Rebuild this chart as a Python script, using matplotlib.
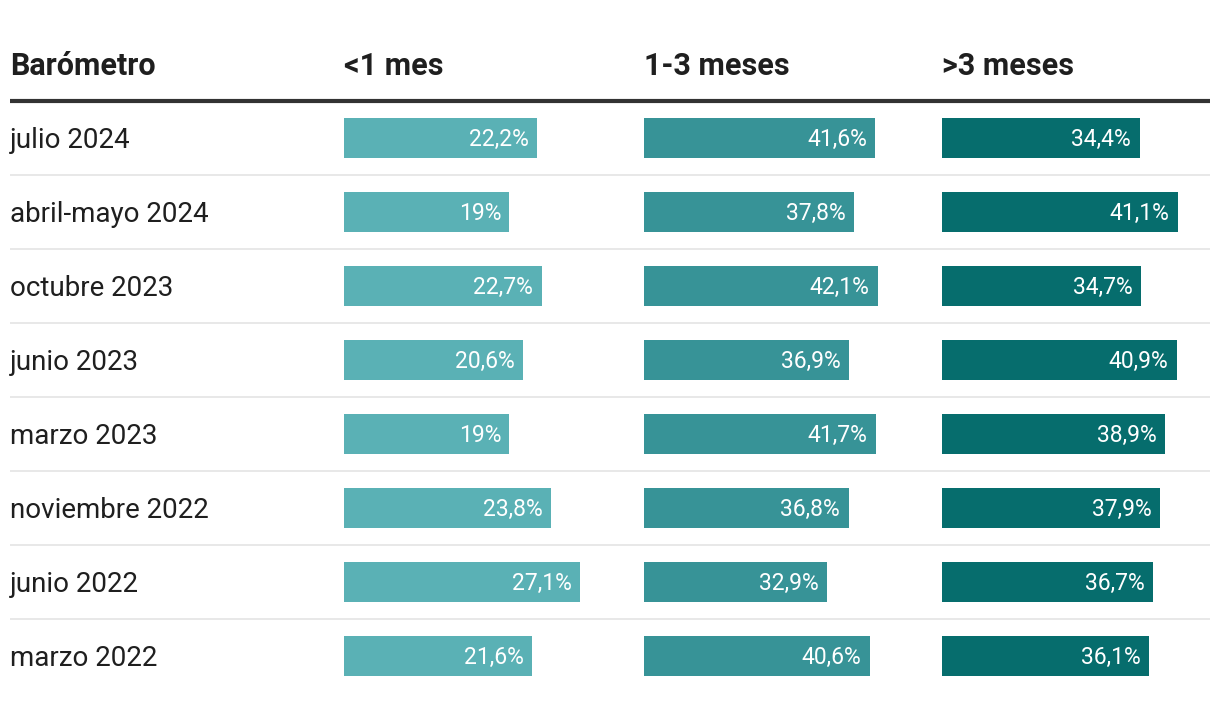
import matplotlib.pyplot as plt

plt.rcParams["font.family"] = ["Roboto", "DejaVu Sans"]

# data
barometros = ["julio 2024", "abril-mayo 2024", "octubre 2023", "junio 2023",
              "marzo 2023", "noviembre 2022", "junio 2022", "marzo 2022"]
menos_1_mes = [22.2, 19.0, 22.7, 20.6, 19.0, 23.8, 27.1, 21.6]
de_1_a_3_meses = [41.6, 37.8, 42.1, 36.9, 41.7, 36.8, 32.9, 40.6]
mas_3_meses = [34.4, 41.1, 34.7, 40.9, 38.9, 37.9, 36.7, 36.1]
columnas = ["<1 mes", "1-3 meses", ">3 meses"]

series = [menos_1_mes, de_1_a_3_meses, mas_3_meses]
colores = ["#5ab1b5", "#379397", "#066d6d"]
col_x = [344, 644, 942]      # left edge of each column in pixels
bar_px = [236, 234, 236]     # width of the longest bar in each column

W, H = 1220, 702
ROW = 74
fig = plt.figure(figsize=(W / 100, H / 100), dpi=100)
fig.patch.set_facecolor("white")

# row units: row 0 centre at 138 px, 74 px per row
y_top = -138 / ROW
y_bot = (H - 138) / ROW

bg = fig.add_axes([0, 0, 1, 1])
bg.set_xlim(0, W)
bg.set_ylim(y_bot, y_top)
bg.axis("off")


def cap_shift(size_pt):
    # move a baseline down so the cap height sits centred on the row
    return 0.711 * size_pt * 100 / 72 / 2 / ROW


n = len(barometros)
hs = 22
header_kw = dict(fontsize=hs, fontweight="bold", color="#1f1f1f", va="baseline")
bg.text(10, -1 + cap_shift(hs), "Barómetro", **header_kw)
for x, name in zip(col_x, columnas):
    bg.text(x, -1 + cap_shift(hs), name, **header_kw)
bg.plot([10, 1210], [-0.5, -0.5], color="#333333", lw=3, solid_capstyle="butt")
for i in range(n - 1):
    bg.plot([10, 1210], [i + 0.5, i + 0.5], color="#e8e8e8", lw=1.4,
            solid_capstyle="butt")
ls = 20
for i, lab in enumerate(barometros):
    bg.text(10, i + cap_shift(ls), lab, fontsize=ls, color="#1f1f1f",
            va="baseline")

vs = 16.5
for vals, col, x0, wpx in zip(series, colores, col_x, bar_px):
    ax = fig.add_axes([x0 / W, 0, wpx / W, 1])
    ax.set_xlim(0, max(vals))
    ax.set_ylim(y_bot, y_top)
    ax.axis("off")
    ax.patch.set_alpha(0)
    ax.barh(range(n), vals, height=40 / ROW, color=col)
    for i, v in enumerate(vals):
        txt = f"{v:.1f}".replace(".", ",").replace(",0", "") + "%"
        ax.annotate(txt, (v, i + cap_shift(vs)), xytext=(-6, 0),
                    textcoords="offset points", ha="right", va="baseline",
                    color="white", fontsize=vs)

fig.savefig("out.png", dpi=100)
